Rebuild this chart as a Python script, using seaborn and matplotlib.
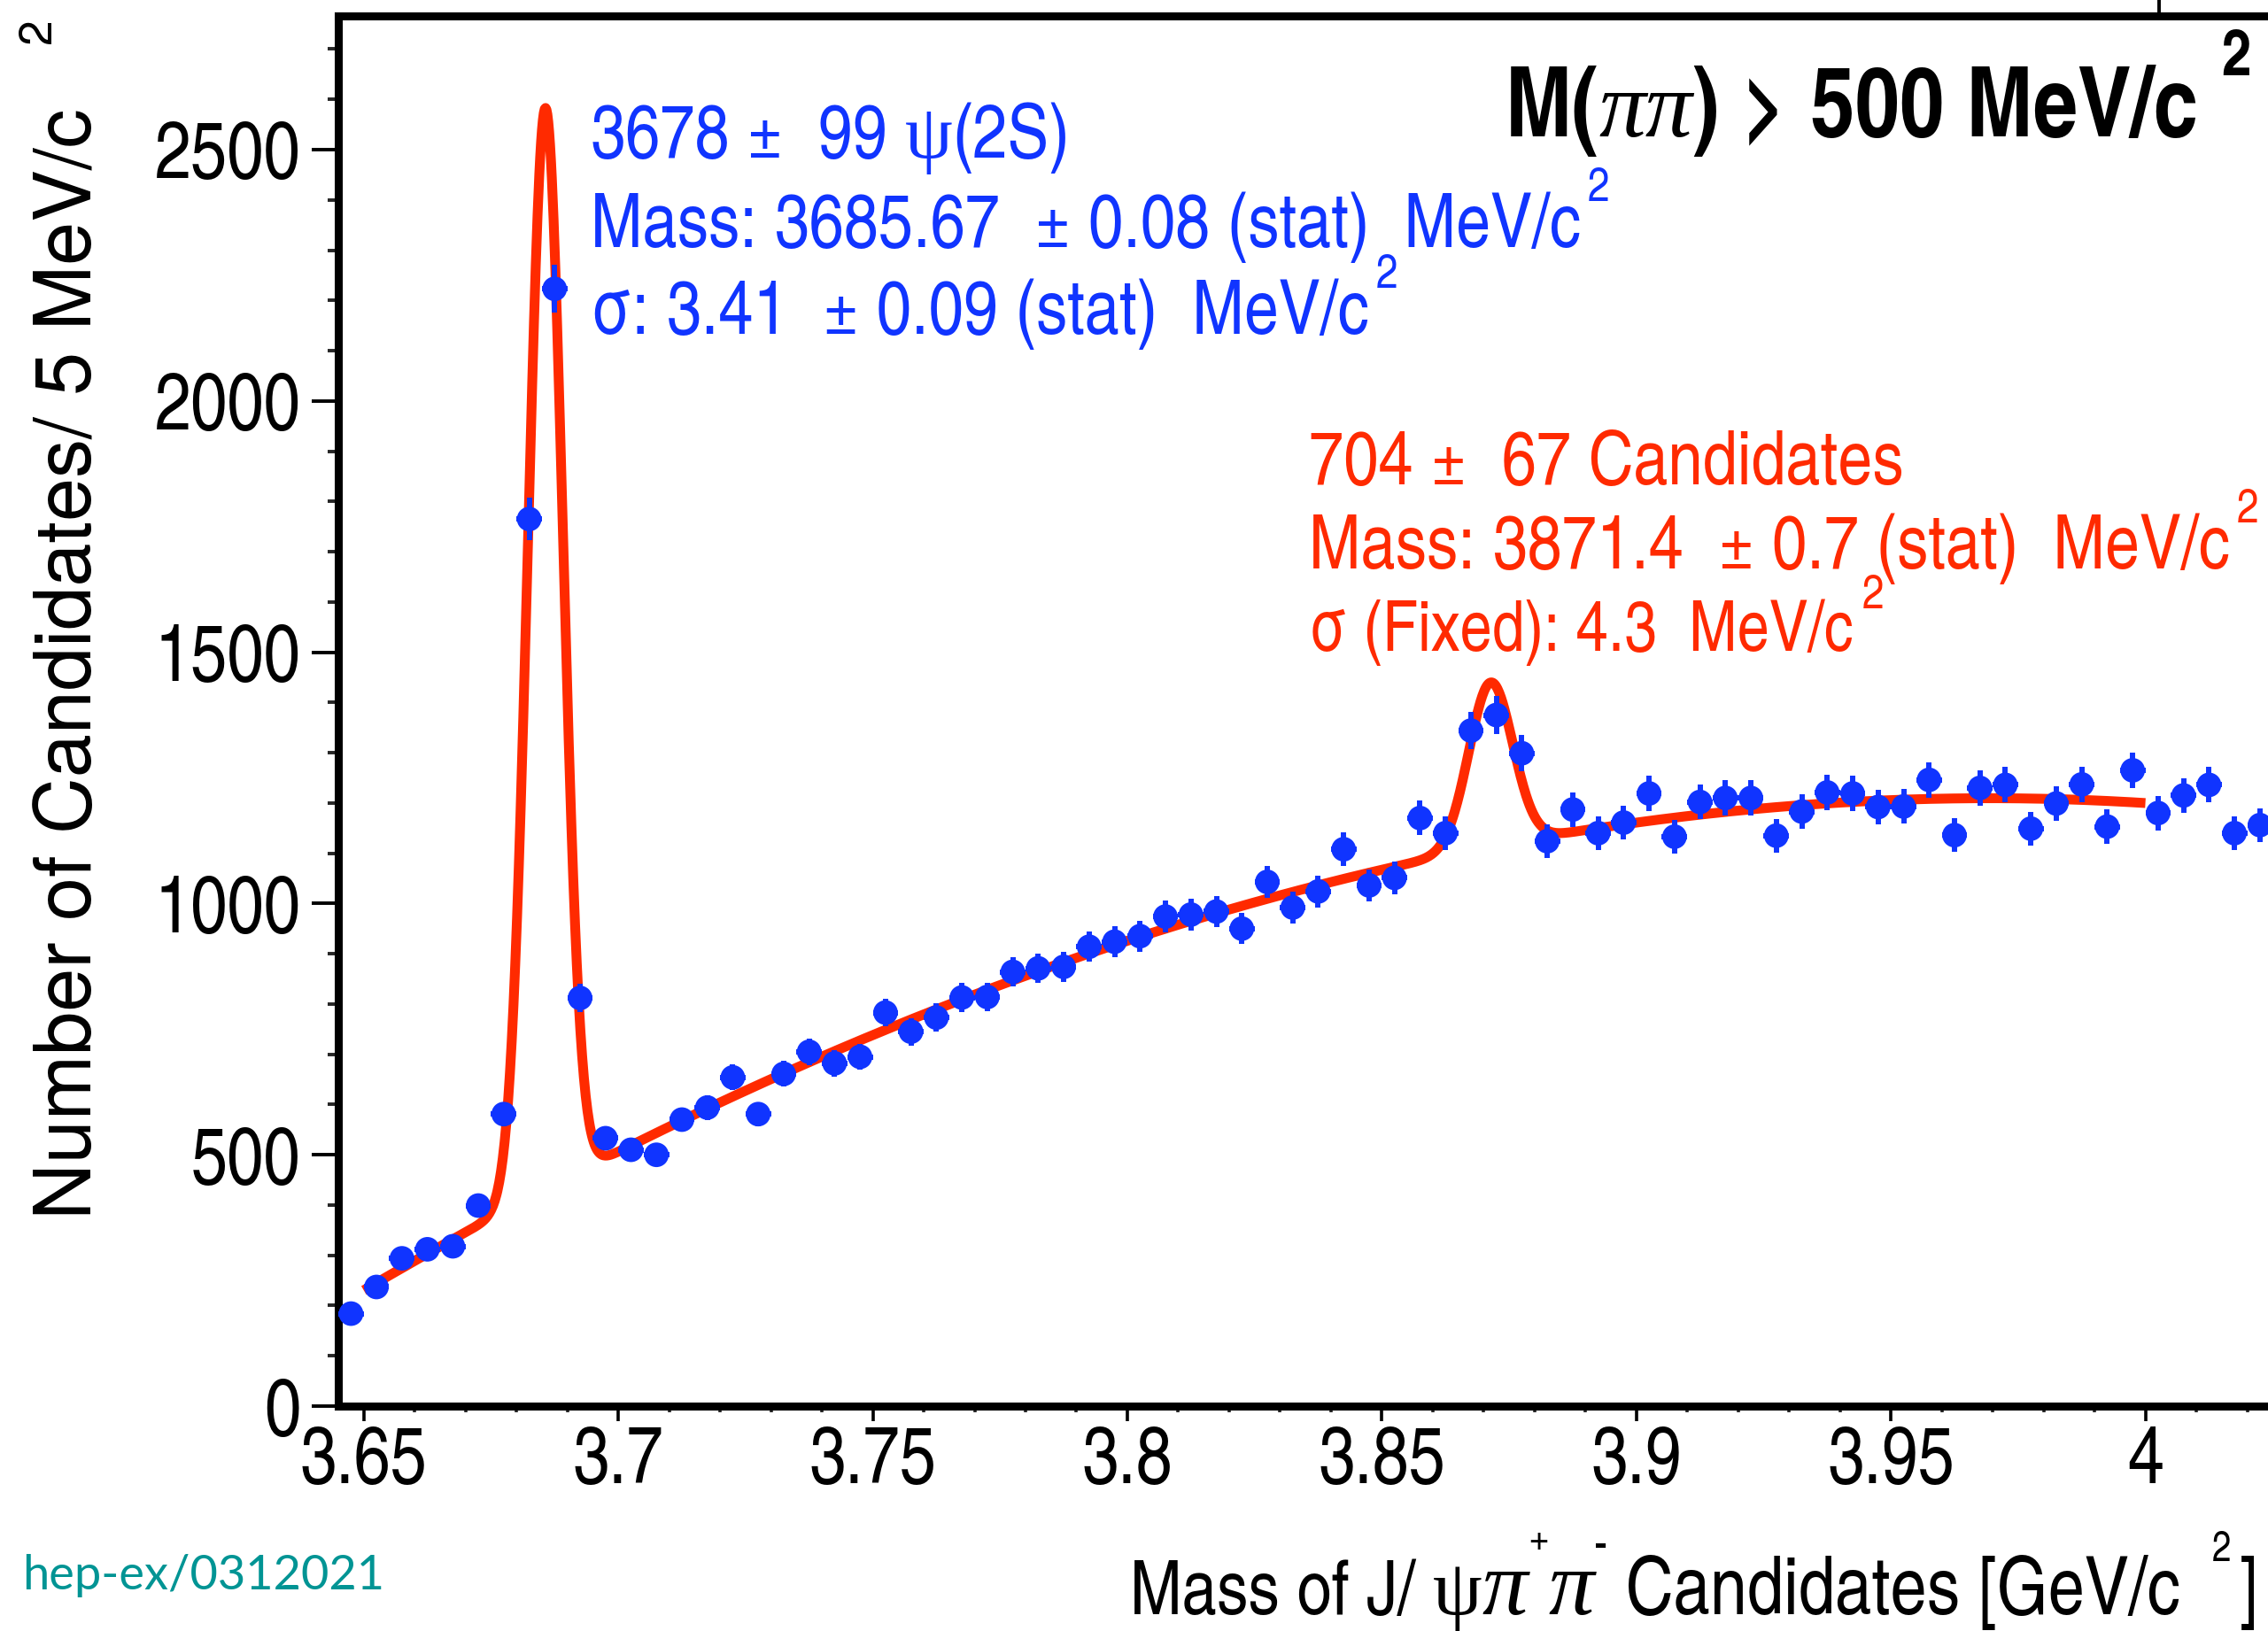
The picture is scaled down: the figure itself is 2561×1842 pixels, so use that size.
import numpy as np
import pandas as pd
import matplotlib
matplotlib.use("Agg")
import matplotlib.pyplot as plt
import seaborn as sns
from matplotlib.font_manager import FontProperties
from matplotlib.ticker import MultipleLocator, FuncFormatter
from matplotlib.transforms import IdentityTransform
from matplotlib.lines import Line2D

# ---- J/psi pi+ pi- candidates, 5 MeV/c^2 bins starting at 3.645 GeV/c^2 ----
bin_low = 3.645
bin_width = 0.005
counts = [184, 237, 294, 312, 318, 399, 581, 1765, 2223, 812,
          533, 510, 500, 570, 594, 654, 581, 661, 705, 682,
          695, 783, 745, 773, 813, 814, 864, 871, 874, 914,
          924, 935, 974, 978, 984, 950, 1043, 992, 1024, 1108,
          1036, 1051, 1170, 1140, 1344, 1375, 1299, 1124, 1187, 1140,
          1161, 1219, 1133, 1202, 1210, 1210, 1135, 1183, 1221, 1219,
          1192, 1193, 1246, 1136, 1230, 1236, 1149, 1199, 1237, 1153,
          1265, 1180, 1215, 1236, 1140, 1156]

# ---- fit results (yield, mass [GeV/c^2], width [GeV/c^2]) ----
psi_yield, psi_mass, psi_sigma = 3678, 3.68567, 0.00341
x_yield, x_mass, x_sigma = 704, 3.8714, 0.0043
fit_range = (3.65, 4.00)
# smooth background level of the fit
bkg_mass = [3.650, 3.6675, 3.700, 3.7265, 3.7475, 3.7675, 3.7925, 3.8075,
            3.8275, 3.8475, 3.857, 3.8825, 3.9125, 3.9475, 3.9725, 4.000]
bkg_level = [234, 331, 500, 640, 719, 807, 907, 948,
             1018, 1059, 1089, 1127, 1177, 1200, 1209, 1203]

W, H, DPI = 2561, 1842, 100
BLUE = "#1034ff"
RED = "#ff2a00"
TEAL = "#009494"

NARROW = ["TeX Gyre Heros Cn", "Roboto Condensed", "Liberation Serif", "DejaVu Sans"]
WIDE = ["TeX Gyre Heros", "Liberation Sans", "DejaVu Sans"]
SERIF = ["Liberation Serif", "DejaVu Serif"]

sns.set_theme(style="ticks")
plt.rcParams["font.family"] = NARROW
plt.rcParams["lines.solid_capstyle"] = "butt"


def fp(size, family=None, weight="normal", style="normal"):
    return FontProperties(family=family or NARROW, size=size, weight=weight, style=style)


fig = plt.figure(figsize=(W / DPI, H / DPI), dpi=DPI)
fig.patch.set_facecolor("white")

# frame geometry in pixels
x_lo, x_hi = 3.645, 4.05
px_per_gev = 287.4 / 0.05
ax_left, ax_bottom, ax_top = 382, 1588, 18
y_hi = 2766
ax = fig.add_axes([ax_left / W, (H - ax_bottom) / H,
                   (x_hi - x_lo) * px_per_gev / W, (ax_bottom - ax_top) / H])
ax.set_facecolor("white")

hist = pd.DataFrame({"mass": bin_low + bin_width * (np.arange(len(counts)) + 0.5),
                     "count": counts})
hist["err"] = np.sqrt(hist["count"])


def gauss(x, n, m, s):
    return n * bin_width / (s * np.sqrt(2 * np.pi)) * np.exp(-0.5 * ((x - m) / s) ** 2)


bkg = np.polynomial.Polynomial.fit(bkg_mass, bkg_level, 3)
grid = np.linspace(fit_range[0], fit_range[1], 2000)
fit = pd.DataFrame({"mass": grid,
                    "count": bkg(grid) + gauss(grid, psi_yield, psi_mass, psi_sigma)
                    + gauss(grid, x_yield, x_mass, x_sigma)})

sns.lineplot(data=fit, x="mass", y="count", ax=ax, color=RED, lw=8,
             estimator=None, sort=False, zorder=2)
ax.errorbar(hist["mass"], hist["count"], yerr=hist["err"], xerr=bin_width / 2,
            fmt="none", ecolor=BLUE, elinewidth=4.3, capsize=0, zorder=3)
sns.scatterplot(data=hist, x="mass", y="count", ax=ax, color=BLUE, s=400,
                edgecolor="none", linewidth=0, zorder=4, legend=False)

ax.set_xlim(x_lo, x_hi)
ax.set_ylim(0, y_hi)
ax.set_xlabel("")
ax.set_ylabel("")
ax.xaxis.set_major_locator(MultipleLocator(0.05))
ax.xaxis.set_minor_locator(MultipleLocator(0.01))
ax.yaxis.set_major_locator(MultipleLocator(500))
ax.yaxis.set_minor_locator(MultipleLocator(100))
ax.xaxis.set_major_formatter(FuncFormatter(lambda v, _: f"{v:g}"))
ax.yaxis.set_major_formatter(FuncFormatter(lambda v, _: f"{v:g}"))
ax.tick_params(axis="y", which="major", direction="out", length=21.6, width=2.8,
               labelsize=65, pad=9, colors="black")
ax.tick_params(axis="y", which="minor", direction="out", length=8.6, width=2.8)
ax.tick_params(axis="x", which="major", direction="out", length=12.5, width=2.6,
               labelsize=65, pad=3, colors="black")
ax.tick_params(axis="x", which="minor", direction="out", length=5, width=2.6)
for lab in ax.get_xticklabels() + ax.get_yticklabels():
    lab.set_fontproperties(fp(65))
for sp in ax.spines.values():
    sp.set_linewidth(6.5)
    sp.set_color("black")
    sp.set_visible(True)

# ---- text helpers (pixel coordinates measured from the top-left corner) ----
renderer = fig.canvas.get_renderer()


def width(s, prop):
    w1, _, _ = renderer.get_text_width_height_descent(s + "|", prop, ismath=False)
    w2, _, _ = renderer.get_text_width_height_descent("|", prop, ismath=False)
    return w1 - w2


def put(x, y, s, prop, color, **kw):
    fig.text(x, H - y, s, fontproperties=prop, color=color, ha="left",
             va="baseline", transform=IdentityTransform(), **kw)


def chain(x, y, parts, color):
    for s, prop, rise in parts:
        put(x, y - rise, s, prop, color)
        x += width(s, prop)
    return x


TXT = 61.8


def line_with_sup(x, y, s, color, size=TXT, sup_size=39, gap=8, rise=52):
    end = chain(x, y, [(s, fp(size), 0)], color)
    put(end + gap, y - rise, "2", fp(sup_size), color)


# psi(2S) fit summary
chain(667, 178, [("3678 \u00b1  99 ", fp(TXT), 0),
                 ("\u03c8", fp(TXT, SERIF), 0),
                 ("(2S)", fp(TXT), 0)], BLUE)
line_with_sup(667, 279, "Mass: 3685.67  \u00b1 0.08 (stat)  MeV/c", BLUE)
line_with_sup(667, 377, "\u03c3: 3.41  \u00b1 0.09 (stat)  MeV/c", BLUE)

# X(3872) fit summary
chain(1478, 547, [("704 \u00b1  67 Candidates", fp(TXT), 0)], RED)
line_with_sup(1478, 642, "Mass: 3871.4  \u00b1 0.7 (stat)  MeV/c", RED)
line_with_sup(1478, 735, "\u03c3 (Fixed): 4.3  MeV/c", RED, size=57.5, gap=10, rise=48)

# selection label
end = chain(1700, 154, [("M(", fp(79.5, weight="bold"), 0),
                        ("\u03c0\u03c0", fp(76, SERIF, style="italic"), 0),
                        (") > 500 MeV/c", fp(79.5, weight="bold"), 0)], "black")
put(end + 26, 154 - 69, "2", fp(53, weight="bold"), "black")

# x-axis title
serif = fp(64, SERIF)
pi_it = fp(74, SERIF, style="italic")
end = chain(1276, 1823, [("Mass of J/ ", fp(62), 0),
                         ("\u03c8", serif, 0),
                         ("\u03c0", pi_it, 0),
                         ("+", fp(36), 70),
                         ("\u03c0", pi_it, 0),
                         ("-", fp(40), 62),
                         (" Candidates [GeV/c", fp(65.5), 0)], "black")
put(end + 36, 1823 - 60, "2", fp(34), "black")
put(end + 36 + width("2", fp(34)) + 9, 1823, "]", fp(65.5), "black")

# y-axis title
fig.text(103, H - 122, "Number of Candidates/ 5 MeV/c", fontproperties=fp(63.5, WIDE),
         rotation=90, rotation_mode="anchor", ha="right", va="baseline",
         transform=IdentityTransform(), color="black")
fig.text(57, H - 20, "2", fontproperties=fp(37, WIDE),
         rotation=90, rotation_mode="anchor", ha="right", va="baseline",
         transform=IdentityTransform(), color="black")

# preprint reference
put(25, 1795, "hep-ex/0312021", fp(39, ["Lato", "DejaVu Sans"]), TEAL)

# edge of the header box above the frame
fig.add_artist(Line2D([2438, 2438], [H, H - 14], transform=IdentityTransform(),
                      color="black", lw=2.8))

fig.savefig("out.png", dpi=DPI, facecolor="white")
